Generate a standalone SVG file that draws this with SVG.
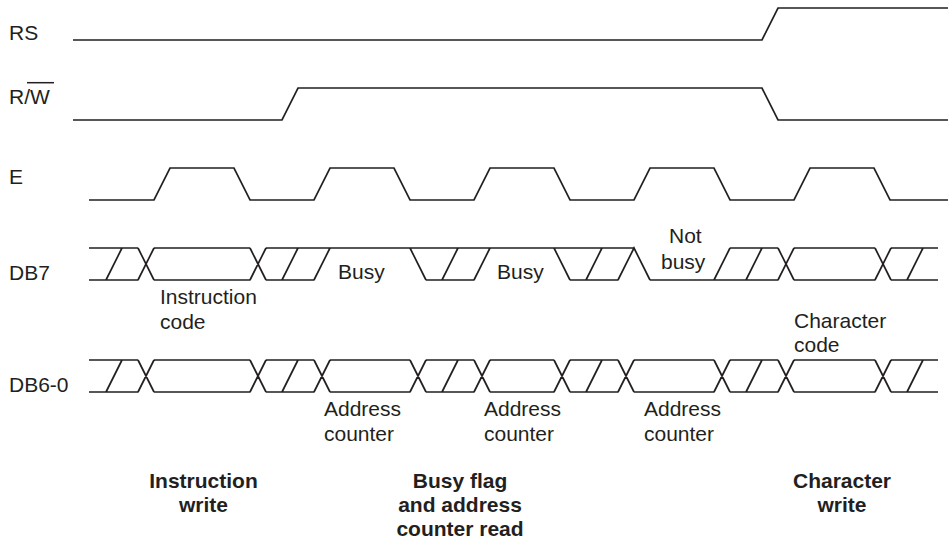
<svg xmlns="http://www.w3.org/2000/svg" width="950" height="541" viewBox="0 0 950 541">
<style>
.w{fill:none;stroke:#231f20;stroke-width:1.7;stroke-linejoin:miter}
text{font-family:"Liberation Sans",Arial,sans-serif;font-size:21px;fill:#231f20}
.b{font-weight:bold;text-anchor:middle}
</style>
<rect width="950" height="541" fill="#fff"/>
<g id="labels">
<text x="9" y="40">RS</text>
<text x="9" y="104">R/W</text>
<line x1="27" y1="82.7" x2="54" y2="82.7" stroke="#231f20" stroke-width="1.5"/>
<text x="9" y="184">E</text>
<text x="9" y="280">DB7</text>
<text x="9" y="392">DB6-0</text>
</g>
<g id="RS">
<path class="w" d="M73,40 H762 L778,8 H948"/>
</g>
<g id="RW">
<path class="w" d="M73,120 H282 L298,88 H762 L778,120 H948"/>
</g>
<g id="E">
<path class="w" d="M89,200 H154 L170,168 H234 L250,200 H314 L330,168 H394 L410,200 H474 L490,168 H554 L570,200 H634 L650,168 H714 L730,200 H794 L810,168 H874 L890,200 H948"/>
</g>
<g id="DB7">
<path class="w" d="M89,248 H138 M154,248 H250 M266,248 H634 M730,248 H778 M794,248 H875 M891,248 H938
M89,280 H138 M154,280 H250 M266,280 H314 M426,280 H474 M570,280 H618 M650,280 H778 M794,280 H875 M891,280 H938
M106,280 L122,248 M138,248 L154,280 M138,280 L154,248 M250,248 L266,280 M250,280 L266,248
M282,280 L298,248 M314,280 L330,248 M410,248 L426,280 M442,280 L458,248 M474,280 L490,248
M554,248 L570,280 M586,280 L602,248 M618,280 L634,248 L650,280
M714,280 L730,248 M746,280 L762,248 M778,248 L794,280 M778,280 L794,248
M875,248 L891,280 M875,280 L891,248 M907,280 L923,248"/>
<text x="160" y="304">Instruction</text>
<text x="160" y="329">code</text>
<text x="338" y="279">Busy</text>
<text x="497" y="279">Busy</text>
<text x="669" y="243">Not</text>
<text x="661" y="269">busy</text>
</g>
<g id="DB6-0">
<path class="w" d="M89,360 H138 M154,360 H250 M266,360 H314 M330,360 H410 M426,360 H474 M490,360 H554 M570,360 H618 M634,360 H714 M730,360 H778 M794,360 H875 M891,360 H938
M89,392 H138 M154,392 H250 M266,392 H314 M330,392 H410 M426,392 H474 M490,392 H554 M570,392 H618 M634,392 H714 M730,392 H778 M794,392 H875 M891,392 H938
M106,392 L122,360 M138,360 L154,392 M138,392 L154,360 M250,360 L266,392 M250,392 L266,360
M282,392 L298,360 M314,360 L330,392 M314,392 L330,360 M410,360 L426,392 M410,392 L426,360
M442,392 L458,360 M474,360 L490,392 M474,392 L490,360 M554,360 L570,392 M554,392 L570,360
M586,392 L602,360 M618,360 L634,392 M618,392 L634,360 M714,360 L730,392 M714,392 L730,360
M746,392 L762,360 M778,360 L794,392 M778,392 L794,360 M875,360 L891,392 M875,392 L891,360 M907,392 L923,360"/>
<text x="794" y="328">Character</text>
<text x="794" y="352">code</text>
<text x="324" y="416">Address</text>
<text x="324" y="441">counter</text>
<text x="484" y="416">Address</text>
<text x="484" y="441">counter</text>
<text x="644" y="416">Address</text>
<text x="644" y="441">counter</text>
</g>
<g id="phases">
<text class="b" x="203.5" y="488">Instruction</text>
<text class="b" x="203.5" y="512">write</text>
<text class="b" x="460" y="488">Busy flag</text>
<text class="b" x="460" y="512">and address</text>
<text class="b" x="460" y="536">counter read</text>
<text class="b" x="842" y="488">Character</text>
<text class="b" x="842" y="512">write</text>
</g>
</svg>
